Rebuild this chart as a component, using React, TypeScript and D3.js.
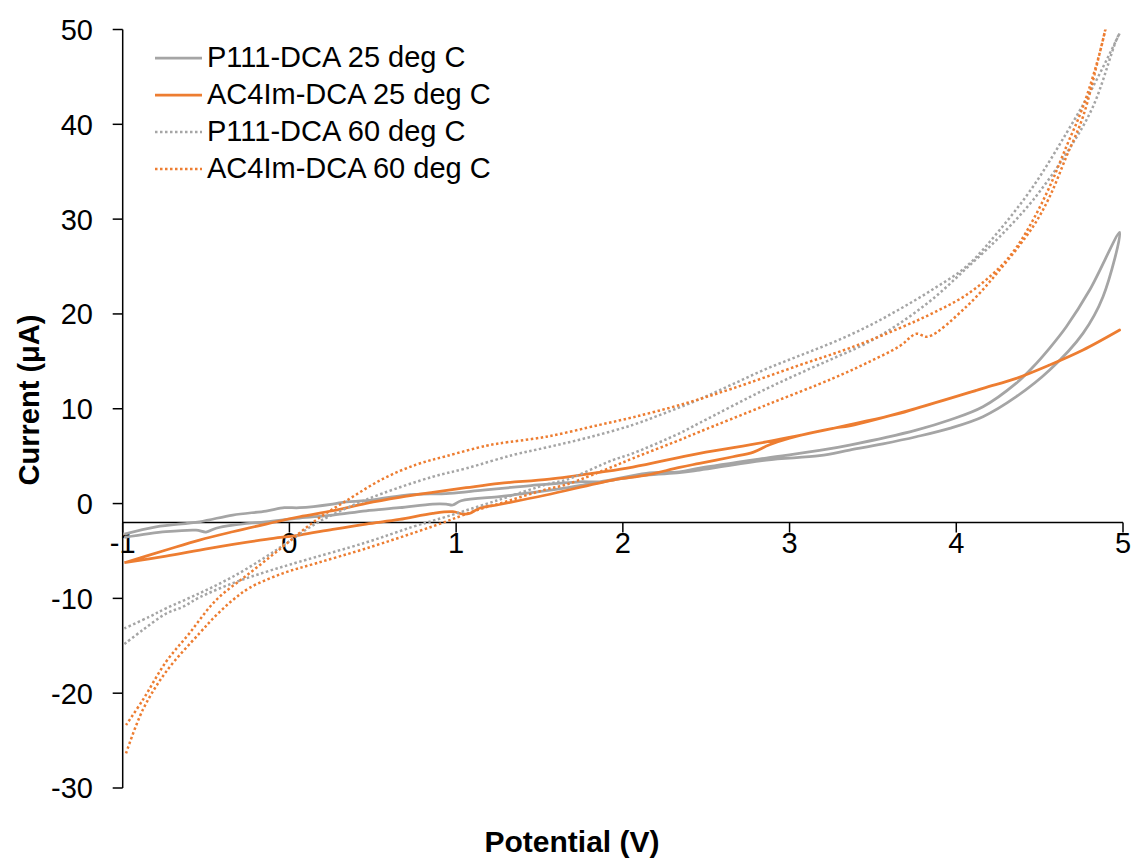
import React from "react";
import * as d3 from "d3";

// ---------- data (potential V, current µA) ----------
const xTicks = [-1, 0, 1, 2, 3, 4, 5];
const yTicks = [-30, -20, -10, 0, 10, 20, 30, 40, 50];
const seriesNames = ["P111-DCA 25 deg C", "AC4Im-DCA 25 deg C", "P111-DCA 60 deg C", "AC4Im-DCA 60 deg C"];

const p111_25: [number, number][] = [
  [-0.99, -3.57], [-0.74, -2.97], [-0.56, -2.8], [-0.5, -3.0], [-0.44, -2.6], [-0.34, -2.27],
  [-0.14, -1.92], [0.06, -1.53], [0.26, -1.21], [0.46, -0.76], [0.66, -0.44], [0.86, -0.05],
  [0.94, -0.05], [0.98, -0.15], [1.03, 0.3], [1.26, 0.72], [1.34, 0.9], [1.64, 1.6], [1.94, 2.48],
  [2.14, 3.0], [2.34, 3.25], [2.46, 3.53], [2.86, 4.59], [3.18, 5.05], [3.36, 5.64], [3.56, 6.3],
  [3.76, 7.05], [3.96, 7.93], [4.16, 9.16], [4.36, 11.27], [4.56, 14.08], [4.76, 17.95],
  [4.88, 21.81], [4.98, 28.6],
  [4.8, 22.52], [4.66, 18.65], [4.56, 16.4], [4.46, 14.4], [4.36, 12.7], [4.16, 10.21], [3.96, 8.81],
  [3.76, 7.75], [3.36, 6.17], [3.18, 5.6], [2.86, 4.8], [2.46, 3.74], [2.34, 3.35], [2.14, 3.19],
  [1.86, 2.3], [1.74, 2.3], [1.42, 1.85], [1.16, 1.42], [0.96, 1.08], [0.7, 0.9], [0.46, 0.3],
  [0.34, 0.19], [0.26, -0.05], [0.06, -0.44], [-0.03, -0.44], [-0.14, -0.79], [-0.34, -1.21],
  [-0.54, -1.92], [-0.8, -2.45], [-0.99, -3.22],
];

const ac4im_25: [number, number][] = [
  [-0.99, -6.24], [-0.74, -5.54], [-0.48, -4.73], [-0.14, -3.78], [0.06, -3.32], [0.26, -2.72],
  [0.46, -2.16], [0.66, -1.67], [0.86, -1.03], [0.98, -0.86], [1.04, -1.1], [1.08, -1.05],
  [1.14, -0.5], [1.26, -0.1], [1.54, 0.9], [1.94, 2.48], [2.14, 3.0], [2.34, 3.82], [2.46, 4.24],
  [2.66, 4.94], [2.78, 5.4], [2.88, 6.2], [3.0, 6.9], [3.26, 7.93], [3.36, 8.2],
  [3.76, 10.04], [4.16, 12.15], [4.36, 13.2], [4.56, 14.61], [4.76, 16.19], [4.98, 18.3],
  [4.76, 16.19], [4.56, 14.61], [4.36, 13.2], [4.16, 12.15], [3.76, 10.04], [3.66, 9.51],
  [3.26, 7.93], [2.86, 6.5], [2.46, 5.3], [2.06, 3.85], [1.86, 3.3], [1.56, 2.58], [1.26, 2.13],
  [1.06, 1.67], [0.86, 1.18], [0.66, 0.65], [0.46, 0.02], [0.26, -0.76], [0.06, -1.39],
  [-0.14, -2.16], [-0.34, -2.97], [-0.54, -3.85], [-0.74, -4.9], [-0.99, -6.24],
];

const p111_60: [number, number][] = [
  [-0.99, -14.82], [-0.88, -13.34], [-0.74, -11.6], [-0.64, -10.9], [-0.54, -9.9], [-0.34, -8.4],
  [-0.14, -7.2], [0.06, -6.14], [0.46, -4.1], [0.74, -2.45], [0.94, -1.39], [1.24, 0.3],
  [1.56, 2.1], [1.66, 2.5], [1.94, 4.59], [2.06, 5.3], [2.34, 7.41], [2.46, 8.5], [2.86, 12.1],
  [3.06, 13.73], [3.26, 15.3], [3.46, 16.9], [3.66, 19.0], [3.86, 21.6], [4.06, 24.8],
  [4.26, 28.14], [4.46, 32.0], [4.66, 36.92], [4.82, 41.86], [4.96, 48.9], [4.98, 49.6],
  [4.82, 43.97], [4.66, 39.05], [4.46, 33.42], [4.26, 28.85], [4.06, 25.0], [3.86, 22.6],
  [3.66, 20.5], [3.46, 18.6], [3.26, 17.0], [3.06, 15.6], [2.86, 14.2], [2.66, 12.6],
  [2.46, 11.0], [2.26, 9.6], [2.06, 8.3], [1.8, 7.0], [1.56, 5.99], [1.34, 5.12], [1.06, 3.71],
  [0.86, 2.83], [0.56, 1.08], [0.36, -0.34], [0.16, -2.09], [-0.02, -4.2], [-0.14, -5.61],
  [-0.34, -7.72], [-0.54, -9.47], [-0.74, -11.05], [-0.84, -11.94], [-0.99, -13.17],
];

const ac4im_60: [number, number][] = [
  [-0.98, -26.35], [-0.88, -21.78], [-0.74, -17.74], [-0.54, -13.69], [-0.44, -11.8],
  [-0.34, -10.18], [-0.24, -8.9], [-0.04, -7.36], [0.16, -6.3], [0.46, -4.73], [0.86, -2.4],
  [1.14, -0.6], [1.26, 0.0], [1.54, 1.5], [1.66, 2.0], [1.94, 3.9], [2.06, 4.77], [2.34, 6.7],
  [2.46, 7.57], [2.86, 10.39], [3.26, 13.2], [3.46, 14.8], [3.66, 16.6],
  [3.76, 17.9], [3.83, 17.6], [4.06, 20.76], [4.26, 24.63], [4.46, 29.2], [4.56, 32.36],
  [4.66, 36.58], [4.76, 40.8], [4.86, 47.5], [4.92, 52],
  [4.86, 47.5], [4.76, 41.86], [4.66, 37.64], [4.56, 33.42], [4.46, 29.9], [4.36, 27.0],
  [4.26, 24.9], [4.06, 22.0], [3.86, 20.1], [3.66, 18.5], [3.36, 16.4], [3.06, 14.6],
  [2.66, 12.15], [2.34, 10.39], [2.06, 9.1], [1.86, 8.3], [1.54, 7.05], [1.26, 6.35],
  [1.18, 6.1], [0.94, 5.0], [0.76, 4.1], [0.56, 2.6], [0.36, 0.5],
  [0.16, -1.74], [-0.04, -4.56], [-0.24, -7.36], [-0.44, -10.18], [-0.6, -13.69],
  [-0.74, -16.69], [-0.88, -20.73], [-0.98, -23.36],
];

const GRAY = "#A5A5A5";
const ORANGE = "#ED7D31";
const FONT = "'Liberation Sans', Arial, Helvetica, sans-serif";

const series = [
  { name: seriesNames[0], data: p111_25, color: GRAY, dotted: false },
  { name: seriesNames[1], data: ac4im_25, color: ORANGE, dotted: false },
  { name: seriesNames[2], data: p111_60, color: GRAY, dotted: true },
  { name: seriesNames[3], data: ac4im_60, color: ORANGE, dotted: true },
];

export default function App() {
  const W = 1139, H = 862;
  const x = d3.scaleLinear().domain([-1, 5]).range([122.7, 1123]);
  const y = d3.scaleLinear().domain([-30, 50]).range([788, 29.5]);
  const line = d3
    .line<[number, number]>()
    .x((d) => x(d[0]))
    .y((d) => y(d[1]))
    .curve(d3.curveCatmullRom.alpha(0.5));
  const axisY = y(-2);
  const x0 = x(-1);

  return (
    <svg width={W} height={H} style={{ position: "absolute", left: 0, top: 0, background: "#fff" }} fontFamily={FONT}>
      <defs>
        <clipPath id="plot">
          <rect x={x(-1)} y={y(50)} width={x(5) - x(-1)} height={y(-30) - y(50)} />
        </clipPath>
      </defs>
      {/* y axis */}
      <line x1={x0} x2={x0} y1={y(50)} y2={y(-30)} stroke="#000" strokeWidth={1.5} />
      {yTicks.map((t) => (
        <g key={"y" + t}>
          <line x1={x0 - 10} x2={x0} y1={y(t)} y2={y(t)} stroke="#000" strokeWidth={1.5} />
          <text x={93} y={y(t)} dy="0.36em" textAnchor="end" fontSize={29} fill="#000">
            {t}
          </text>
        </g>
      ))}
      {/* x axis crossing at -2 */}
      <line x1={x0} x2={x(5)} y1={axisY} y2={axisY} stroke="#000" strokeWidth={1.5} />
      {xTicks.map((t) => (
        <g key={"x" + t}>
          <line x1={x(t)} x2={x(t)} y1={axisY} y2={axisY + 10} stroke="#000" strokeWidth={1.5} />
          <text x={x(t)} y={553} textAnchor="middle" fontSize={29} fill="#000">
            {t}
          </text>
        </g>
      ))}
      {/* series */}
      <g clipPath="url(#plot)">
        {series.map((s) => (
          <path
            key={s.name}
            d={line(s.data) || ""}
            fill="none"
            stroke={s.color}
            strokeWidth={s.dotted ? 2.5 : 2.75}
            strokeDasharray={s.dotted ? "2.5 2.5" : undefined}
            strokeLinejoin="round"
          />
        ))}
      </g>
      {/* legend */}
      {series.map((s, i) => {
        const ly = 58 + i * 37;
        return (
          <g key={"lg" + i}>
            <line
              x1={155}
              x2={202}
              y1={ly}
              y2={ly}
              stroke={s.color}
              strokeWidth={s.dotted ? 2.5 : 2.75}
              strokeDasharray={s.dotted ? "2.5 2.5" : undefined}
            />
            <text x={207} y={ly + 9} fontSize={29} fill="#000">
              {s.name}
            </text>
          </g>
        );
      })}
      {/* axis titles */}
      <text x={572} y={852} textAnchor="middle" fontSize={30} fontWeight="bold" fill="#000">
        Potential (V)
      </text>
      <text transform="rotate(-90)" x={-400} y={39} textAnchor="middle" fontSize={29} fontWeight="bold" fill="#000">
        Current (μA)
      </text>
    </svg>
  );
}
